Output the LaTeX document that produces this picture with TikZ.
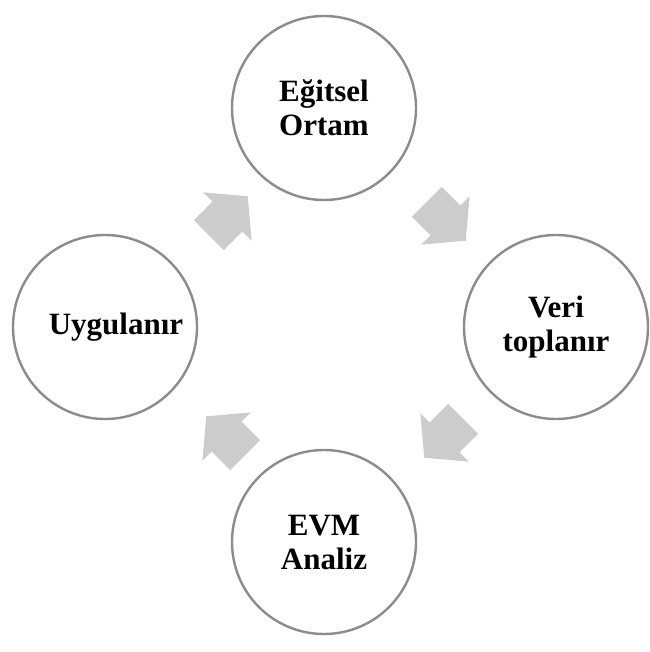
\documentclass[tikz,border=0pt]{standalone}
\usepackage{fontspec}
\setmainfont{Liberation Serif}
\usetikzlibrary{shapes.arrows}

\tikzset{
  stage/.style={circle,draw=black!45,line width=2.4pt,minimum size=184pt,inner sep=0pt,
    align=center,font=\fontsize{31}{34}\selectfont\bfseries},
  flow/.style={single arrow,fill=black!20,draw=none,minimum height=55pt,minimum width=68pt,
    single arrow head extend=13pt,single arrow tip angle=100,inner xsep=0pt,inner ysep=21pt}
}

\begin{document}
\begin{tikzpicture}[x=1pt,y=-1pt]
  \useasboundingbox (0,0) rectangle (649,652);
  % stages of the cycle
  \node[stage] (ortam)  at (324,108) {Eğitsel\\Ortam};
  \node[stage] (veri)   at (556,327) {Veri\\toplanır};
  \node[stage] (analiz) at (324,542) {EVM\\Analiz};
  \node[stage] (uygula) at (105,327) {\hspace*{22pt}Uygulanır};
  % block arrows between stages
  \node[flow,rotate=45]  (a1) at (222,222) {};
  \node[flow,rotate=-45] (a2) at (440,215) {};
  \node[flow,rotate=-135] (a3) at (450,432) {};
  \node[flow,rotate=135] (a4) at (232,442) {};
\end{tikzpicture}
\end{document}
